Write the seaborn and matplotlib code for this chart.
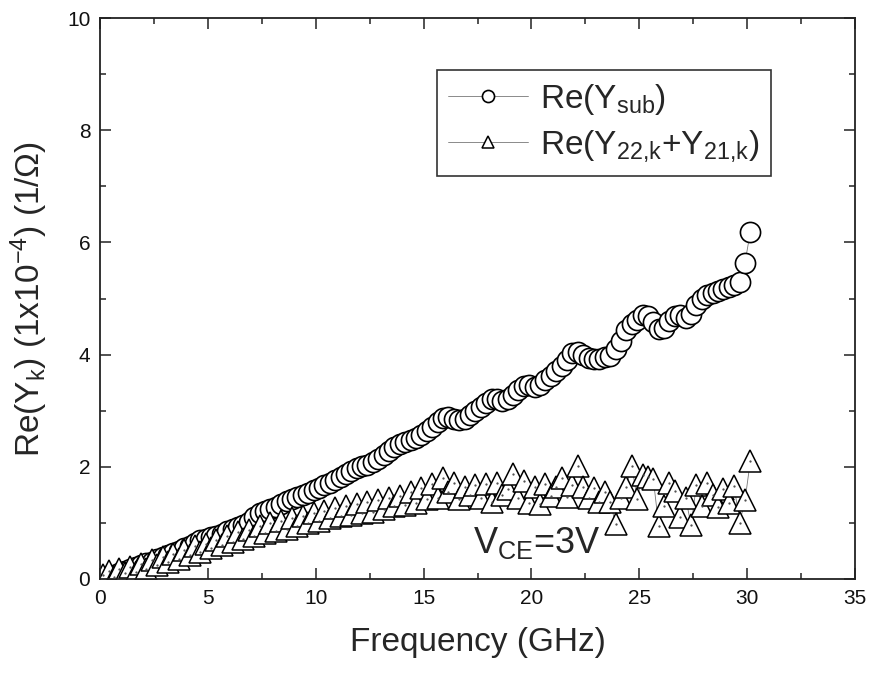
import matplotlib
matplotlib.use("Agg")
import matplotlib.pyplot as plt
from matplotlib.ticker import MultipleLocator
import seaborn as sns
import pandas as pd

freq_ghz = [
    0.15, 0.40, 0.65, 0.90, 1.15, 1.40, 1.65, 1.90, 2.15, 2.40,
    2.65, 2.90, 3.15, 3.40, 3.65, 3.90, 4.15, 4.40, 4.65, 4.90,
    5.15, 5.40, 5.65, 5.90, 6.15, 6.40, 6.65, 6.90, 7.15, 7.40,
    7.65, 7.90, 8.15, 8.40, 8.65, 8.90, 9.15, 9.40, 9.65, 9.90,
    10.15, 10.40, 10.65, 10.90, 11.15, 11.40, 11.65, 11.90, 12.15, 12.40,
    12.65, 12.90, 13.15, 13.40, 13.65, 13.90, 14.15, 14.40, 14.65, 14.90,
    15.15, 15.40, 15.65, 15.90, 16.15, 16.40, 16.65, 16.90, 17.15, 17.40,
    17.65, 17.90, 18.15, 18.40, 18.65, 18.90, 19.15, 19.40, 19.65, 19.90,
    20.15, 20.40, 20.65, 20.90, 21.15, 21.40, 21.65, 21.90, 22.15, 22.40,
    22.65, 22.90, 23.15, 23.40, 23.65, 23.90, 24.15, 24.40, 24.65, 24.90,
    25.15, 25.40, 25.65, 25.90, 26.15, 26.40, 26.65, 26.90, 27.15, 27.40,
    27.65, 27.90, 28.15, 28.40, 28.65, 28.90, 29.15, 29.40, 29.65, 29.90,
    30.15,
]

re_y_sub = [
    0.02, 0.05, 0.08, 0.11, 0.14, 0.17, 0.21, 0.25, 0.28, 0.31,
    0.35, 0.39, 0.43, 0.46, 0.50, 0.55, 0.59, 0.64, 0.69, 0.72,
    0.74, 0.76, 0.80, 0.85, 0.89, 0.92, 0.96, 1.02, 1.10, 1.18,
    1.22, 1.25, 1.29, 1.34, 1.39, 1.43, 1.47, 1.50, 1.54, 1.58,
    1.62, 1.67, 1.72, 1.77, 1.82, 1.87, 1.92, 1.97, 2.01, 2.04,
    2.08, 2.14, 2.21, 2.28, 2.36, 2.40, 2.44, 2.48, 2.52, 2.56,
    2.63, 2.71, 2.80, 2.87, 2.89, 2.86, 2.83, 2.85, 2.92, 3.00,
    3.07, 3.14, 3.20, 3.21, 3.18, 3.20, 3.28, 3.37, 3.44, 3.45,
    3.43, 3.46, 3.54, 3.62, 3.70, 3.80, 3.91, 4.02, 4.05, 4.00,
    3.94, 3.92, 3.93, 3.95, 3.98, 4.10, 4.25, 4.44, 4.55, 4.62,
    4.70, 4.68, 4.58, 4.46, 4.47, 4.60, 4.68, 4.70, 4.66, 4.72,
    4.88, 5.00, 5.06, 5.10, 5.14, 5.17, 5.20, 5.24, 5.30, 5.64,
    6.19,
]

re_y22_y21 = [
    0.08, 0.14, 0.03, 0.18, 0.10, 0.22, 0.12, 0.26, 0.17, 0.33,
    0.25, 0.40, 0.30, 0.45, 0.36, 0.52, 0.42, 0.58, 0.48, 0.62,
    0.55, 0.70, 0.60, 0.76, 0.66, 0.84, 0.72, 0.88, 0.76, 0.95,
    0.82, 1.00, 0.86, 1.04, 0.90, 1.08, 0.95, 1.12, 1.00, 1.18,
    1.04, 1.22, 1.08, 1.26, 1.12, 1.30, 1.14, 1.34, 1.18, 1.38,
    1.20, 1.40, 1.25, 1.44, 1.30, 1.48, 1.32, 1.55, 1.36, 1.62,
    1.42, 1.70, 1.45, 1.80, 1.55, 1.72, 1.42, 1.64, 1.50, 1.68,
    1.45, 1.70, 1.38, 1.72, 1.50, 1.60, 1.88, 1.45, 1.75, 1.35,
    1.64, 1.34, 1.70, 1.48, 1.64, 1.80, 1.46, 1.68, 2.02, 1.64,
    1.45, 1.62, 1.38, 1.55, 1.38, 0.98, 1.45, 1.64, 2.02, 1.43,
    1.85, 1.82, 1.78, 0.95, 1.30, 1.72, 1.57, 1.10, 1.45, 0.96,
    1.68, 1.30, 1.72, 1.50, 1.28, 1.60, 1.35, 1.66, 1.00, 1.40,
    2.11,
]

label_sub = r"Re(Y$_{\mathrm{sub}}$)"
label_k = r"Re(Y$_{\mathrm{22{,}k}}$+Y$_{\mathrm{21{,}k}}$)"

df = pd.DataFrame({"f": freq_ghz, "sub": re_y_sub, "k": re_y22_y21})

sns.set_style("ticks")
plt.rcParams["font.family"] = ["Liberation Sans", "DejaVu Sans"]
plt.rcParams["mathtext.fontset"] = "custom"
plt.rcParams["mathtext.rm"] = "Liberation Sans"
plt.rcParams["mathtext.it"] = "Liberation Sans"

fig = plt.figure(figsize=(8.71, 6.73), dpi=100)
ax = fig.add_axes([100 / 871, 1 - 579 / 673, 755 / 871, 561 / 673])

sns.lineplot(data=df, x="f", y="sub", ax=ax, estimator=None, sort=False,
             color="#777777", lw=0.6, marker="o", markersize=14.5,
             markerfacecolor="white", markeredgecolor="black",
             markeredgewidth=1.2, label=label_sub)
sns.lineplot(data=df, x="f", y="k", ax=ax, estimator=None, sort=False,
             color="#777777", lw=0.6, marker="^", markersize=15.5,
             markerfacecolor="white", markeredgecolor="black",
             markeredgewidth=1.1, label=label_k)
ax.plot(df["f"], df["k"], ls="none", marker=".", ms=1.2, color="#444444", zorder=5)

ax.set_xlim(0, 35)
ax.set_ylim(0, 10)
ax.xaxis.set_major_locator(MultipleLocator(5))
ax.xaxis.set_minor_locator(MultipleLocator(2.5))
ax.yaxis.set_major_locator(MultipleLocator(2))
ax.yaxis.set_minor_locator(MultipleLocator(1))
ax.tick_params(which="both", direction="in", top=True, right=True,
               width=1.1, colors="#222222", labelsize=15, labelcolor="#111111")
ax.tick_params(which="major", length=8, pad=7)
ax.tick_params(which="minor", length=4)
for s in ax.spines.values():
    s.set_visible(True)
    s.set_linewidth(1.3)
    s.set_color("#222222")

ax.set_xlabel("Frequency (GHz)", fontsize=24, labelpad=14)
ax.set_ylabel(r"Re(Y$_{\mathrm{k}}$) (1x10$^{\mathrm{-4}}$) (1/$\Omega$)",
              fontsize=24, labelpad=12)

ax.text(17.3, 0.46, r"V$_{\mathrm{CE}}$=3V", fontsize=26, ha="left",
        va="baseline", zorder=6)

leg = ax.legend(loc="upper left", bbox_to_anchor=(0.446, 0.907),
                borderaxespad=0, fontsize=24, frameon=True, fancybox=False,
                handlelength=2.4, handletextpad=0.35, markerscale=0.6,
                borderpad=0.35, labelspacing=0.35)
leg.get_frame().set_edgecolor("#333333")
leg.get_frame().set_linewidth(1.2)
leg.get_frame().set_alpha(1)

fig.savefig("out.png", dpi=100)
